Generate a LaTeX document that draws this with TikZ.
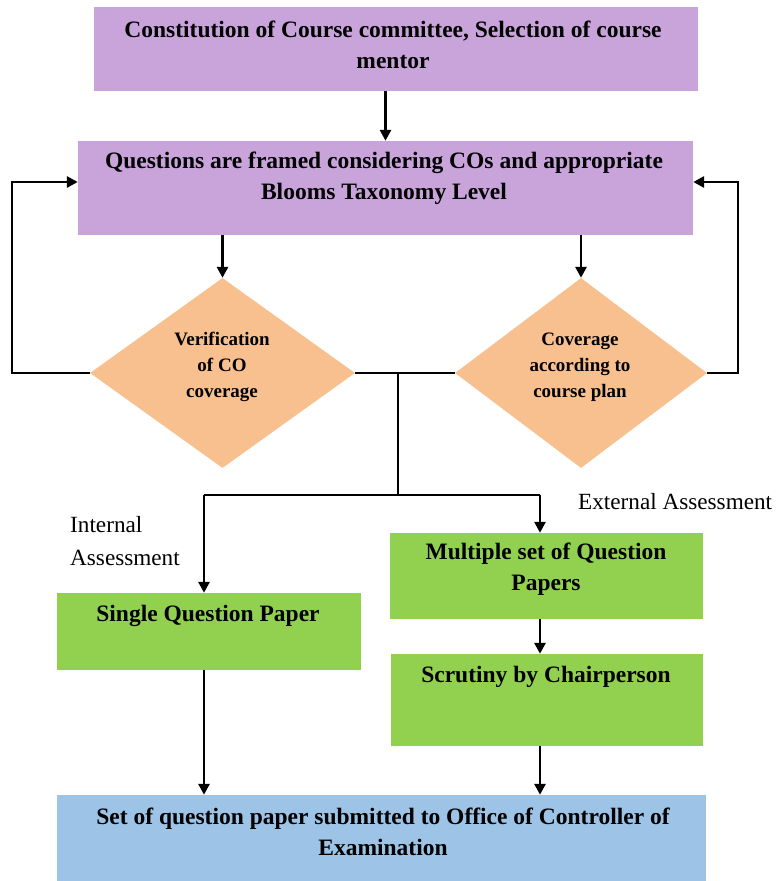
\documentclass[tikz,border=0pt]{standalone}
\usepackage{fontspec}
\setmainfont{Liberation Serif}
\usetikzlibrary{shapes.geometric,arrows.meta}

\definecolor{lavender}{HTML}{C8A4DA}
\definecolor{peach}{HTML}{F8BF8F}
\definecolor{leaf}{HTML}{92D050}
\definecolor{sky}{HTML}{9DC3E6}

\tikzset{
  panel/.style={rectangle, draw=none, inner sep=0pt},
  decision/.style={diamond, draw=none, fill=peach, inner sep=0pt, aspect=1},
  boldtext/.style={font=\fontsize{23.5}{31}\selectfont\bfseries, align=center, inner sep=0pt},
  smalltext/.style={font=\fontsize{19}{26}\selectfont\bfseries, align=center, inner sep=0pt},
  plaintext/.style={font=\fontsize{23.2}{33}\selectfont, align=left, inner sep=0pt},
  link/.style={line width=2.9pt, black},
  arr/.style={link, -{Triangle[length=11pt,width=11pt]}}
}

\begin{document}
\begin{tikzpicture}[x=1pt, y=-1pt]
  \useasboundingbox (0,0) rectangle (778,881);

  % process boxes
  \node[panel, fill=lavender, minimum width=604, minimum height=84] (constitution) at (396,49) {};
  \node[boldtext, anchor=center] (constitutionText) at (393,45)
    {Constitution of Course committee, Selection of course\\mentor};

  \node[panel, fill=lavender, minimum width=615, minimum height=94] (questions) at (385.5,188) {};
  \node[boldtext] (questionsText) at (384,178)
    {Questions are framed considering COs and appropriate\\Blooms Taxonomy Level};

  % decision diamonds
  \node[decision, minimum width=265, minimum height=190] (verify) at (222.5,373) {};
  \node[smalltext] (verifyText) at (222,367) {Verification\\of CO\\coverage};

  \node[decision, minimum width=252, minimum height=190] (coverage) at (581,373) {};
  \node[smalltext] (coverageText) at (580,367) {Coverage\\according to\\course plan};

  % assessment branches
  \node[panel, fill=leaf, minimum width=304, minimum height=77] (single) at (209,631.5) {};
  \node[boldtext] (singleText) at (208,616) {Single Question Paper};

  \node[panel, fill=leaf, minimum width=313, minimum height=86] (multiple) at (546.5,576) {};
  \node[boldtext] (multipleText) at (546,569.5) {Multiple set of Question\\Papers};

  \node[panel, fill=leaf, minimum width=312, minimum height=92] (scrutiny) at (547,700) {};
  \node[boldtext] (scrutinyText) at (546,677) {Scrutiny by Chairperson};

  \node[panel, fill=sky, minimum width=649, minimum height=88] (office) at (381.5,839) {};
  \node[boldtext] (officeText) at (383,831.5)
    {Set of question paper submitted to Office of Controller of\\Examination};

  % branch labels
  \node[plaintext, anchor=west] (internalLbl) at (70,541.5) {Internal\\Assessment};
  \node[plaintext, anchor=west] (externalLbl) at (578,502) {External Assessment};

  % routing points
  \coordinate (loopL) at (12,182);
  \coordinate (loopR) at (738,182);
  \coordinate (split) at (398,373);
  \coordinate (branch) at (398,495);
  \coordinate (brL) at (204,495);
  \coordinate (brR) at (540,495);

  % connectors
  \draw[arr] (constitution.south -| questions.north) -- (questions.north);
  \draw[arr] (questions.south -| verify.north) -- (verify.north);
  \draw[arr] (questions.south -| coverage.north) -- (coverage.north);

  \draw[arr] (verify.west) -| (loopL) -- (loopL -| questions.west);
  \draw[arr] (coverage.east) -| (loopR) -- (loopR -| questions.east);

  \draw[link] (verify.east) -- (coverage.west);
  \draw[link] (split) -- (branch);
  \draw[link] (brL) -- (brR);

  \draw[arr] (brL) -- (brL |- single.north);
  \draw[arr] (brR) -- (brR |- multiple.north);
  \draw[arr] (brR |- multiple.south) -- (brR |- scrutiny.north);
  \draw[arr] (brL |- single.south) -- (brL |- office.north);
  \draw[arr] (brR |- scrutiny.south) -- (brR |- office.north);
\end{tikzpicture}
\end{document}
